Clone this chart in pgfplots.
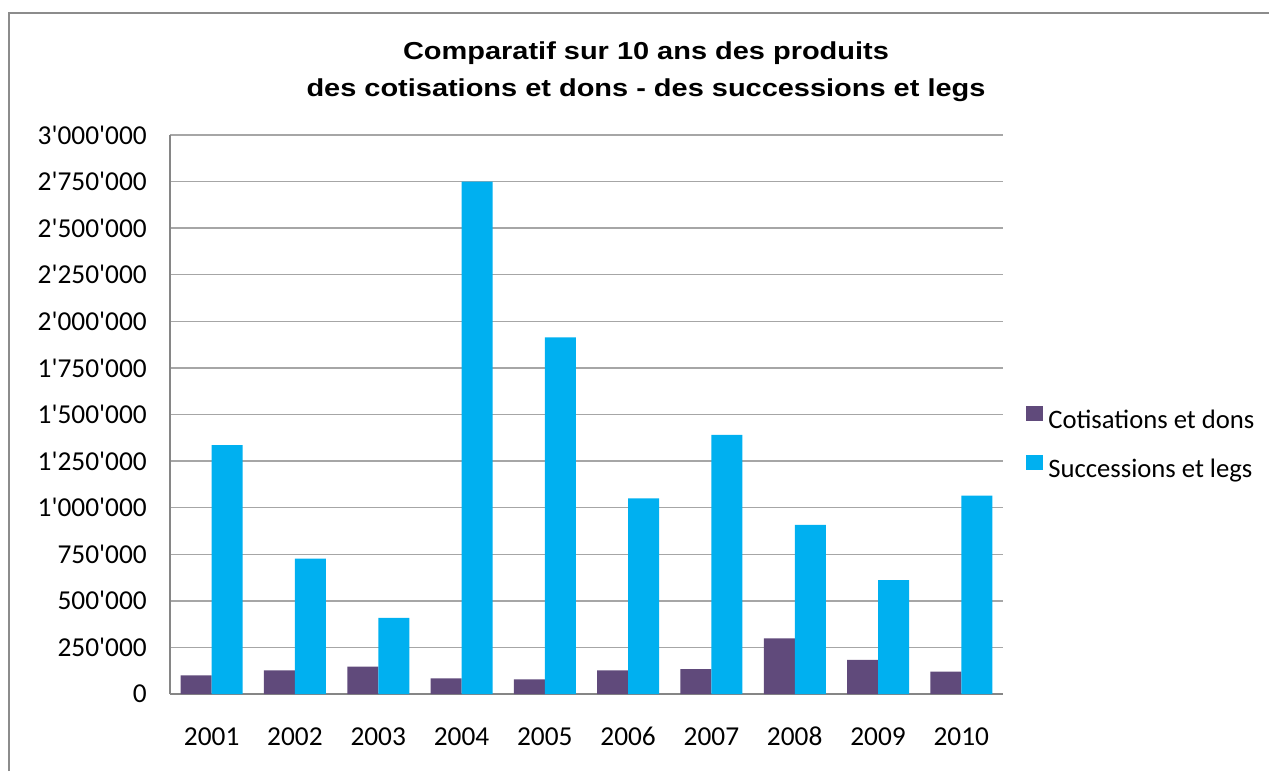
\documentclass[border=0pt]{standalone}
\usepackage{pgfplots}
\pgfplotsset{compat=1.18}
\usepackage{fontspec}
\newfontfamily\carlito{Carlito}
\newfontfamily\titlefont{Liberation Sans}[FakeStretch=1.18]
\definecolor{cotis}{HTML}{604A7B}
\definecolor{succ}{HTML}{00B0F0}
\definecolor{gridgray}{HTML}{A6A6A6}
\definecolor{axisgray}{HTML}{868686}
\definecolor{framegray}{HTML}{8C8C8C}
\begin{document}
\begin{tikzpicture}[x=0.75pt,y=0.75pt]
\useasboundingbox (0,0) rectangle (1269,771);
\draw[color=framegray, line width=1.6pt] (9,0) -- (9,758) -- (1269,758);
\node[font=\titlefont\bfseries\fontsize{18.4pt}{22pt}\selectfont, anchor=base, inner sep=0pt] at (646,711) {Comparatif sur 10 ans des produits};
\node[font=\titlefont\bfseries\fontsize{18.4pt}{22pt}\selectfont, anchor=base, inner sep=0pt] at (646,674) {des cotisations et dons - des successions et legs};
\begin{axis}[
  at={(127.5pt,57.75pt)}, anchor=south west,
  scale only axis, width=624.75pt, height=419.25pt,
  ybar=0pt, bar width=23.25pt,
  xmin=2000.5, xmax=2010.5, ymin=0, ymax=3000000,
  xtick={2001,...,2010},
  xticklabels={2001,2002,2003,2004,2005,2006,2007,2008,2009,2010},
  ytick={0,250000,500000,750000,1000000,1250000,1500000,1750000,2000000,2250000,2500000,2750000,3000000},
  yticklabels={0,250'000,500'000,750'000,1'000'000,1'250'000,1'500'000,1'750'000,2'000'000,2'250'000,2'500'000,2'750'000,3'000'000},
  scaled y ticks=false,
  axis x line*=bottom, axis y line*=left,
  axis line style={color=axisgray, line width=1.1pt},
  ymajorgrids, grid style={color=gridgray, line width=1.1pt},
  major tick length=0pt,
  tick label style={font=\carlito\fontsize{20.5pt}{24pt}\selectfont},
  yticklabel style={anchor=east, inner sep=0pt, xshift=-17.25pt},
  xticklabel style={anchor=base, inner sep=0pt, yshift=-38.25pt},
  legend cell align=left,
  legend image code/.code={\fill[#1] (0pt,0pt) rectangle (12.75pt,11.5pt);},
  legend style={at={(1.0276,0.5152)}, anchor=north west, draw=none, fill=none,
    inner sep=0pt, outer sep=0pt, row sep=15.25pt, column sep=4pt,
    font=\carlito\fontsize{20pt}{24pt}\selectfont,
    nodes={inner sep=0pt, text height=15pt, text depth=5pt}},
]
\addplot[fill=cotis, draw=none] coordinates {
  (2001,100000) (2002,127000) (2003,147000) (2004,84000) (2005,79000)
  (2006,127000) (2007,134000) (2008,299000) (2009,183000) (2010,120000)};
\addplot[fill=succ, draw=none] coordinates {
  (2001,1335000) (2002,727000) (2003,408000) (2004,2750000) (2005,1914000)
  (2006,1050000) (2007,1391000) (2008,907000) (2009,611000) (2010,1065000)};
\legend{Cotisations et dons, Successions et legs}
\end{axis}
\end{tikzpicture}
\end{document}
